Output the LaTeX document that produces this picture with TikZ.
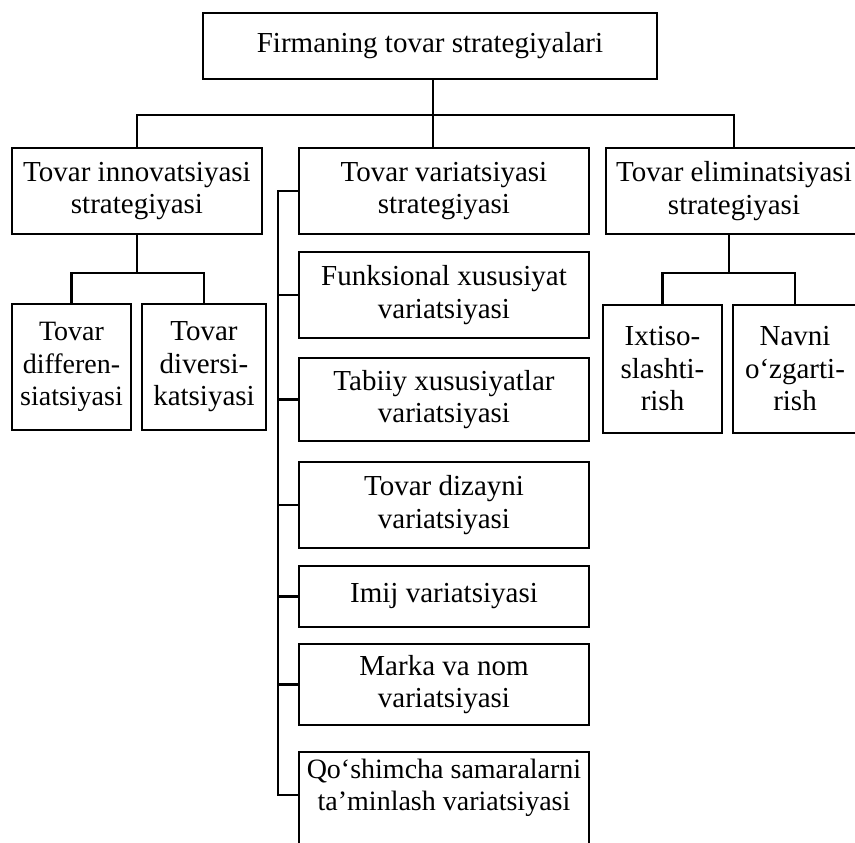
\documentclass[tikz,border=0pt]{standalone}
\usepackage{fontspec}
\setmainfont{Liberation Serif}
\begin{document}
\begin{tikzpicture}[x=1pt,y=-1pt,
  txt/.style={inner sep=0pt, align=center, font=\fontsize{29}{32.5}\selectfont},
  box/.style={txt, draw, line width=2.3pt},
  conn/.style={line width=2.3pt}]
\useasboundingbox (0,0) rectangle (855,843);
\clip (0,0) rectangle (855,843);
\fill[white] (0,0) rectangle (855,843);

% top
\node[box, minimum width=454pt, minimum height=66pt] (top) at (430,46) {Firmaning tovar strategiyalari};

% level 2
\node[box, minimum width=250pt, minimum height=86pt] (innov) at (137,191) {Tovar innovatsiyasi\\strategiyasi};
\node[box, minimum width=290pt, minimum height=86pt] (var) at (444,191) {Tovar variatsiyasi\\strategiyasi};
\node[box, minimum width=256pt, minimum height=86pt] (elim) at (734,191) {Tovar eliminatsiyasi\\strategiyasi};

% innovation children
\node[box, minimum width=119pt, minimum height=126pt, font=\fontsize{28}{32.5}\selectfont] (diff) at (71.5,367) {Tovar\\differen-\\siatsiyasi};
\node[box, minimum width=124pt, minimum height=126pt] (divers) at (204,367) {Tovar\\diversi-\\katsiyasi};

% elimination children
\node[box, minimum width=119pt, minimum height=128pt] (ixt) at (662.5,369) {Ixtiso-\\slashti-\\rish};
\node[box, minimum width=124pt, minimum height=128pt] (navni) at (795,369) {Navni\\o‘zgarti-\\rish};

% variation children
\node[box, minimum width=290pt, minimum height=86pt] (funk) at (444,295) {Funksional xususiyat\\variatsiyasi};
\node[box, minimum width=290pt, minimum height=83pt] (tab) at (444,399.5) {Tabiiy xususiyatlar\\variatsiyasi};
\node[box, minimum width=290pt, minimum height=86pt] (diz) at (444,505) {Tovar dizayni\\variatsiyasi};
\node[box, minimum width=290pt, minimum height=61pt] (imij) at (444,596.5) {Imij variatsiyasi};
\node[box, minimum width=290pt, minimum height=81pt] (marka) at (444,684.5) {Marka va nom\\variatsiyasi};
\node[box, minimum width=290pt, minimum height=118pt] (qosh) at (444,811) {};
\node[txt, font=\fontsize{28}{32.5}\selectfont] (qoshtxt) at (444,788) {Qo‘shimcha samaralarni\\ta’minlash variatsiyasi};

% connectors: top level
\coordinate (bus) at (433,115);
\draw[conn] (top.south -| bus) -- (bus);
\draw[conn] (innov.north) |- (bus) -| (elim.north);
\draw[conn] (bus) -- (var.north -| bus);

% innovation subtree
\coordinate (ib) at (137,273);
\draw[conn] (innov.south) -- (ib);
\draw[conn] (diff.north) |- (ib) -| (divers.north);

% elimination subtree
\coordinate (eb) at (729,273);
\draw[conn] (elim.south -| eb) -- (eb);
\draw[conn] (ixt.north) |- (eb) -| (navni.north);

% variation spine
\coordinate (sp0) at (278,191);
\coordinate (sp1) at (278,795);
\draw[conn] (var.west) -- (sp0) -- (sp1) -- (sp1 -| qosh.west);
\foreach \n in {funk,tab,diz,imij,marka}
  \draw[conn] (\n.west) -- (\n.west -| sp0);
\end{tikzpicture}
\end{document}
